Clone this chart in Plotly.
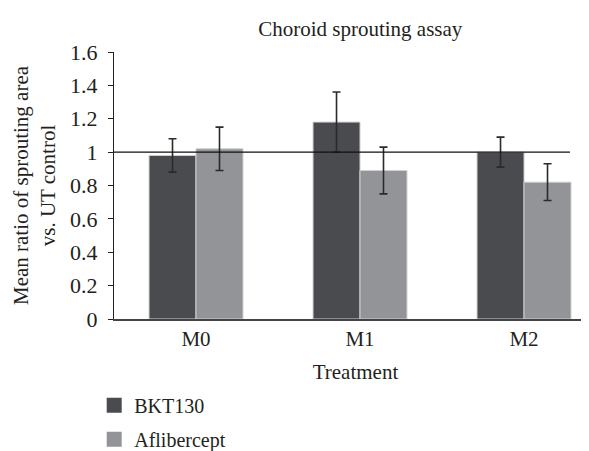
import plotly.graph_objects as go

categories = ["M0", "M1", "M2"]
bkt130 = [0.98, 1.18, 1.00]
bkt130_err = [0.10, 0.18, 0.09]
aflibercept = [1.02, 0.89, 0.82]
aflibercept_err = [0.13, 0.14, 0.11]
reference_level = 1.0
y_ticks = [0, 0.2, 0.4, 0.6, 0.8, 1, 1.2, 1.4, 1.6]
series_names = ["BKT130", "Aflibercept"]

FONT = "Liberation Serif, Times New Roman, serif"
TXT = "#231f20"
DARK = "#4a4b4e"
LIGHT = "#939498"
EDGE = "#d0d0d0"

def f(size):
    return dict(family=FONT, size=size, color=TXT)

fig = go.Figure()
for name, vals, errs, col in [(series_names[0], bkt130, bkt130_err, DARK),
                              (series_names[1], aflibercept, aflibercept_err, LIGHT)]:
    fig.add_trace(go.Bar(
        name=name, x=categories, y=vals, showlegend=False,
        marker=dict(color=col, line=dict(color=EDGE, width=1)),
        error_y=dict(type="data", array=errs, color="#2a2a2a", thickness=1.6, width=4),
    ))
# legend proxies (square swatches)
for i, (name, col) in enumerate([(series_names[0], DARK), (series_names[1], LIGHT)]):
    fig.add_trace(go.Scatter(
        name=name, x=[None], y=[None], mode="markers", legendgroup=f"g{i}",
        marker=dict(symbol="square", size=15, color=col, line=dict(width=0)),
    ))

fig.add_shape(type="line", xref="x domain", yref="y", x0=0, x1=0.944,
              y0=reference_level, y1=reference_level,
              line=dict(color="#111111", width=1.3))

fig.update_layout(
    width=589, height=451,
    margin=dict(l=106, r=0, t=44, b=132),
    paper_bgcolor="white", plot_bgcolor="white",
    font=f(20),
    title=dict(text="Choroid sprouting assay", x=0.598, xanchor="center",
               y=0.955, yanchor="middle", font=f(21)),
    barmode="group", bargap=0.427, bargroupgap=0,
    showlegend=True,
    legend=dict(orientation="v", x=-0.041, xanchor="left", y=-0.25, yanchor="top",
                font=f(20), tracegroupgap=5, itemsizing="trace",
                bgcolor="rgba(0,0,0,0)"),
    xaxis=dict(range=[-0.5, 2.445], showline=True, linecolor="#444444", linewidth=1.6,
               ticks="", showgrid=False, zeroline=False,
               title=dict(text="Treatment", standoff=14, font=f(21)), tickfont=f(21)),
    yaxis=dict(range=[0, 1.6], tickvals=y_ticks, ticktext=[f"{v:g}" for v in y_ticks],
               showline=True, linecolor="#222222", linewidth=1.3, ticks="outside", ticklen=5,
               tickcolor="#222222", tickwidth=1.2, showgrid=False, zeroline=False,
               ticklabelstandoff=6,
               title=dict(text="Mean ratio of sprouting area<br>vs. UT control", standoff=8,
                          font=f(21)),
               tickfont=f(22)),
)

fig.write_html("out.html")
